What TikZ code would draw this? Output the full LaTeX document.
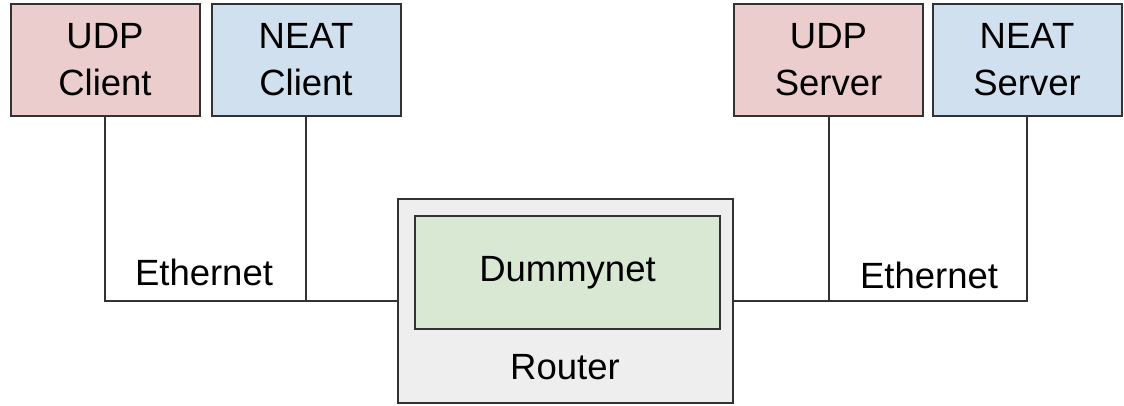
\documentclass[tikz,border=0pt]{standalone}
\usepackage{fontspec}
\setmainfont{Liberation Sans}
\definecolor{udpfill}{RGB}{236,205,205}
\definecolor{neatfill}{RGB}{208,224,238}
\definecolor{dnfill}{RGB}{217,232,211}
\definecolor{routerfill}{RGB}{238,238,238}
\definecolor{edge}{RGB}{50,50,50}
\begin{document}
\begin{tikzpicture}[x=1pt,y=-1pt,
  font=\fontsize{36.5}{47}\selectfont,
  hostbox/.style={draw=edge, line width=2pt, minimum width=189pt, minimum height=112pt,
    align=center, inner sep=0pt},
  udp/.style={hostbox, fill=udpfill},
  neat/.style={hostbox, fill=neatfill},
  wire/.style={draw=edge, line width=2pt},
  label/.style={inner sep=0pt}]
\useasboundingbox (0,0) rectangle (1124,405);

% hosts
\node[udp]  (uc) at (105,60)    {UDP\\Client};
\node[neat] (nc) at (306,60)    {NEAT\\Client};
\node[udp]  (us) at (828.5,60)  {UDP\\Server};
\node[neat] (ns) at (1027,60)   {NEAT\\Server};

% router with the dummynet module inside
\node[draw=edge, fill=routerfill, line width=2pt, minimum width=335pt, minimum height=204pt,
  inner sep=0pt] (router) at (565.5,301) {};
\node[draw=edge, fill=dnfill, line width=2pt, minimum width=305pt, minimum height=113pt,
  inner sep=0pt] (dn) at (567.5,272.5) {Dummynet};
\node[label] (rl) at (565,367) {Router};

% ethernet segments
\draw[wire] (uc.south) |- (router.west);
\draw[wire] (nc.south) -- (nc.south |- router.west);
\draw[wire] (ns.south) |- (router.east);
\draw[wire] (us.south) -- (us.south |- router.east);

\node[label] (eth1) at (204,272) {Ethernet};
\node[label] (eth2) at (929,275) {Ethernet};
\end{tikzpicture}
\end{document}
